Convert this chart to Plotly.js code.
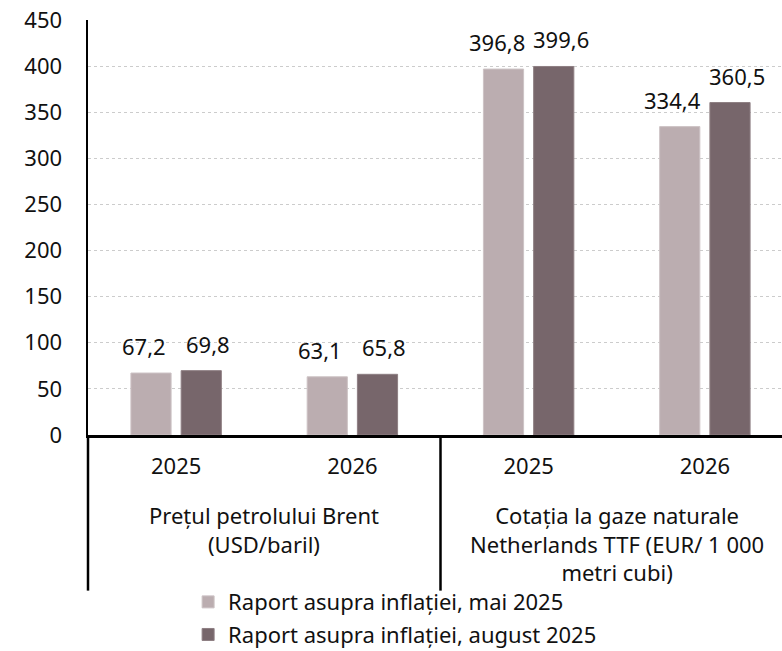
<!DOCTYPE html>
<html>
<head>
<meta charset="utf-8">
<script src="https://cdn.plot.ly/plotly-3.0.1.min.js"></script>
<style>
  html, body { margin: 0; padding: 0; overflow: hidden; background: #fff; }
</style>
</head>
<body>
<div id="myDiv"></div>
<script>
// categories (unique keys), shown tick labels and group labels
var categories = ["brent-2025", "brent-2026", "ttf-2025", "ttf-2026"];
var years = ["2025", "2026", "2025", "2026"];
var groups = ["Prețul petrolului Brent<br>(USD/baril)",
              "Cotația la gaze naturale<br>Netherlands TTF (EUR/ 1 000<br>metri cubi)"];

var seriesNames = ["Raport asupra inflației, mai 2025",
                   "Raport asupra inflației, august 2025"];
var mayVals = [67.2, 63.1, 396.8, 334.4];
var augVals = [69.8, 65.8, 399.6, 360.5];

var fontFam = "Noto Sans, Open Sans, sans-serif";
var fs = 22;
var bargap = 0.43;
// half a bar slot, in category units: where each bar of the pair sits
var slotHalf = (1 - bargap) / 4;

var mai = {
    x: categories,
    y: mayVals,
    type: "bar",
    name: seriesNames[0],
    marker: { color: "#bbadb0", line: { color: "#cdc3c5", width: 1 } },
    hoverinfo: "none",
    legendgroup: "a"
};

var august = {
    x: categories,
    y: augVals,
    type: "bar",
    name: seriesNames[1],
    marker: { color: "#77666b", line: { color: "#8e7f83", width: 1 } },
    hoverinfo: "none",
    legendgroup: "b"
};

// value labels above the bars, nudged apart a little like the original
var fmt = function(v) { return v.toFixed(1).replace(".", ","); };
var valueLabels = [];
categories.forEach(function(c, i) {
    valueLabels.push({ xref: "x", yref: "y", x: i - slotHalf, y: mayVals[i],
        text: fmt(mayVals[i]), showarrow: false, yanchor: "bottom",
        xshift: -7, yshift: 10, font: { size: fs, color: "#111" } });
    valueLabels.push({ xref: "x", yref: "y", x: i + slotHalf, y: augVals[i],
        text: fmt(augVals[i]), showarrow: false, yanchor: "bottom",
        xshift: 7, yshift: 10, font: { size: fs, color: "#111" } });
});

var groupLabels = [
    { xref: "x", yref: "paper", x: 0.5, y: -0.153, yanchor: "top", text: groups[0],
      showarrow: false, font: { size: fs, color: "#111" } },
    { xref: "x", yref: "paper", x: 2.5, y: -0.153, yanchor: "top", text: groups[1],
      showarrow: false, font: { size: fs, color: "#111" } }
];

var layout = {
    width: 800,
    height: 651,
    margin: { l: 88, r: 7, t: 20, b: 216, autoexpand: false },
    paper_bgcolor: "#fff",
    plot_bgcolor: "#fff",
    separators: ", ",
    font: { family: fontFam, size: fs, color: "#111" },
    barmode: "group",
    bargap: bargap,
    bargroupgap: 0.2,
    showlegend: true,
    legend: {
        orientation: "v",
        x: 0.142, xanchor: "left",
        y: -0.352, yanchor: "top",
        font: { size: fs, color: "#111" },
        traceorder: "grouped",
        tracegroupgap: 1,
        itemwidth: 30,
        bgcolor: "rgba(0,0,0,0)"
    },
    xaxis: {
        type: "category",
        tickvals: categories,
        ticktext: years,
        tickangle: 0,
        range: [-0.5, 3.5],
        showgrid: false,
        showline: true,
        linecolor: "#000",
        linewidth: 2.5,
        ticks: "",
        ticklabelstandoff: 10,
        tickfont: { size: fs, color: "#111" },
        zeroline: false
    },
    // labels sit further out than the visible ticks, so the long ticks are hidden
    yaxis: {
        range: [0, 450],
        dtick: 50,
        showgrid: true,
        gridcolor: "#cccccc",
        griddash: "dot",
        gridwidth: 1,
        showline: true,
        linecolor: "#000",
        linewidth: 2.5,
        ticks: "outside",
        ticklen: 19,
        tickwidth: 2,
        tickcolor: "rgba(0,0,0,0)",
        tickfont: { size: fs, color: "#111" },
        zeroline: false
    },
    yaxis2: {
        overlaying: "y",
        side: "left",
        range: [0, 450],
        dtick: 50,
        showgrid: false,
        showline: false,
        showticklabels: false,
        ticks: "outside",
        ticklen: 7,
        tickwidth: 2,
        tickcolor: "#000",
        zeroline: false
    },
    shapes: [
        { type: "line", xref: "paper", yref: "paper", x0: 0, x1: 0, y0: 0, y1: -0.375,
          line: { color: "#000", width: 2.5 } },
        { type: "line", xref: "x", yref: "paper", x0: 1.5, x1: 1.5, y0: 0, y1: -0.375,
          line: { color: "#000", width: 2.5 } }
    ],
    annotations: valueLabels.concat(groupLabels)
};

Plotly.newPlot("myDiv", [mai, august], layout, { displayModeBar: false, staticPlot: true });
</script>
</body>
</html>
